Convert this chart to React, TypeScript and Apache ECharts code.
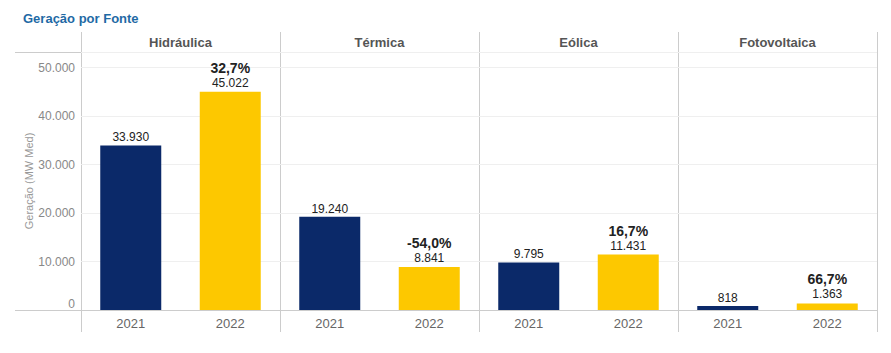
import React, { useEffect, useRef } from "react";
import * as echarts from "echarts";

const panels = ["Hidráulica", "Térmica", "Eólica", "Fotovoltaica"];
const years = ["2021", "2022"];
const values2021 = [33930, 19240, 9795, 818];
const values2022 = [45022, 8841, 11431, 1363];
const changes = ["32,7%", "-54,0%", "16,7%", "66,7%"];
const yTicks = [0, 10000, 20000, 30000, 40000, 50000];

const FONT = "Arial, 'Liberation Sans', sans-serif";
const NAVY = "#0b2969";
const YELLOW = "#fdc800";
const fmt = (v: number) => v.toLocaleString("de-DE");

export default function App() {
  const ref = useRef<HTMLDivElement>(null);
  useEffect(() => {
    if (!ref.current) return;
    const chart = echarts.init(ref.current, undefined, { renderer: "svg" });
    const left0 = 81;
    const pw = 199;
    const top = 52;
    const zeroY = 310;
    const H = 353;
    const grids: any[] = [];
    const xAxes: any[] = [];
    const yAxes: any[] = [];
    const series: any[] = [];
    const graphics: any[] = [];
    panels.forEach((p, i) => {
      grids.push({ left: left0 + pw * i, width: pw, top, bottom: H - zeroY });
      xAxes.push({
        type: "category",
        gridIndex: i,
        data: years,
        axisLine: { show: true, lineStyle: { color: "#cccccc", width: 1 } },
        axisTick: { show: false },
        axisLabel: { color: "#666", fontSize: 13, fontFamily: FONT, margin: 7 },
      });
      yAxes.push({
        type: "value",
        gridIndex: i,
        min: 0,
        max: 53200,
        interval: 10000,
        axisLine: { show: false },
        axisTick: { show: false },
        axisLabel: {
          show: i === 0,
          color: "#888",
          fontSize: 12,
          fontFamily: FONT,
          margin: 6,
          verticalAlignMinLabel: "bottom",
          formatter: (v: number) => (yTicks.includes(v) ? fmt(v) : ""),
        },
        splitLine: { show: true, lineStyle: { color: "#efefef", width: 1 } },
        name: i === 0 ? "Geração (MW Med)" : "",
        nameLocation: "middle",
        nameGap: 47,
        nameTextStyle: { color: "#999", fontSize: 11, fontFamily: FONT },
      });
      series.push({
        type: "bar",
        xAxisIndex: i,
        yAxisIndex: i,
        barWidth: 61,
        data: [
          {
            value: values2021[i],
            itemStyle: { color: NAVY },
            label: {
              show: true,
              position: "top",
              distance: 2,
              formatter: () => fmt(values2021[i]),
              color: "#222",
              fontSize: 12,
              fontFamily: FONT,
            },
          },
          {
            value: values2022[i],
            itemStyle: { color: YELLOW },
            label: {
              show: true,
              position: "top",
              distance: 2,
              formatter: () => `{p|${changes[i]}}\n{v|${fmt(values2022[i])}}`,
              rich: {
                p: { color: "#222", fontSize: 14, fontWeight: "bold", fontFamily: FONT, lineHeight: 16 },
                v: { color: "#222", fontSize: 12, fontFamily: FONT, lineHeight: 14 },
              },
            },
          },
        ],
      });
      graphics.push({
        type: "text",
        x: left0 + pw * i + pw / 2,
        y: 42,
        style: {
          text: p,
          fill: "#555",
          font: `bold 13px ${FONT}`,
          textAlign: "center",
          textVerticalAlign: "middle",
        },
      });
    });
    for (let i = 0; i <= panels.length; i++) {
      const x = left0 + pw * i + 0.5;
      graphics.push({
        type: "line",
        shape: { x1: x, y1: 32, x2: x, y2: 332 },
        style: { stroke: "#cccccc", lineWidth: 1 },
      });
    }
    graphics.push({
      type: "line",
      shape: { x1: 15, y1: top + 0.5, x2: left0 + pw * 4, y2: top + 0.5 },
      style: { stroke: "#cccccc", lineWidth: 1 },
    });
    graphics.push({
      type: "line",
      shape: { x1: 15, y1: zeroY + 0.5, x2: left0, y2: zeroY + 0.5 },
      style: { stroke: "#cccccc", lineWidth: 1 },
    });
    chart.setOption({
      animation: false,
      title: {
        text: "Geração por Fonte",
        left: 18,
        top: 7,
        textStyle: { color: "#1f6aa5", fontSize: 13, fontWeight: "bold", fontFamily: FONT },
      },
      grid: grids,
      xAxis: xAxes,
      yAxis: yAxes,
      series,
      graphic: graphics,
    });
    return () => chart.dispose();
  }, []);
  return (
    <div
      ref={ref}
      style={{ position: "fixed", left: 0, top: 0, width: 891, height: 353, background: "#fff" }}
    />
  );
}
